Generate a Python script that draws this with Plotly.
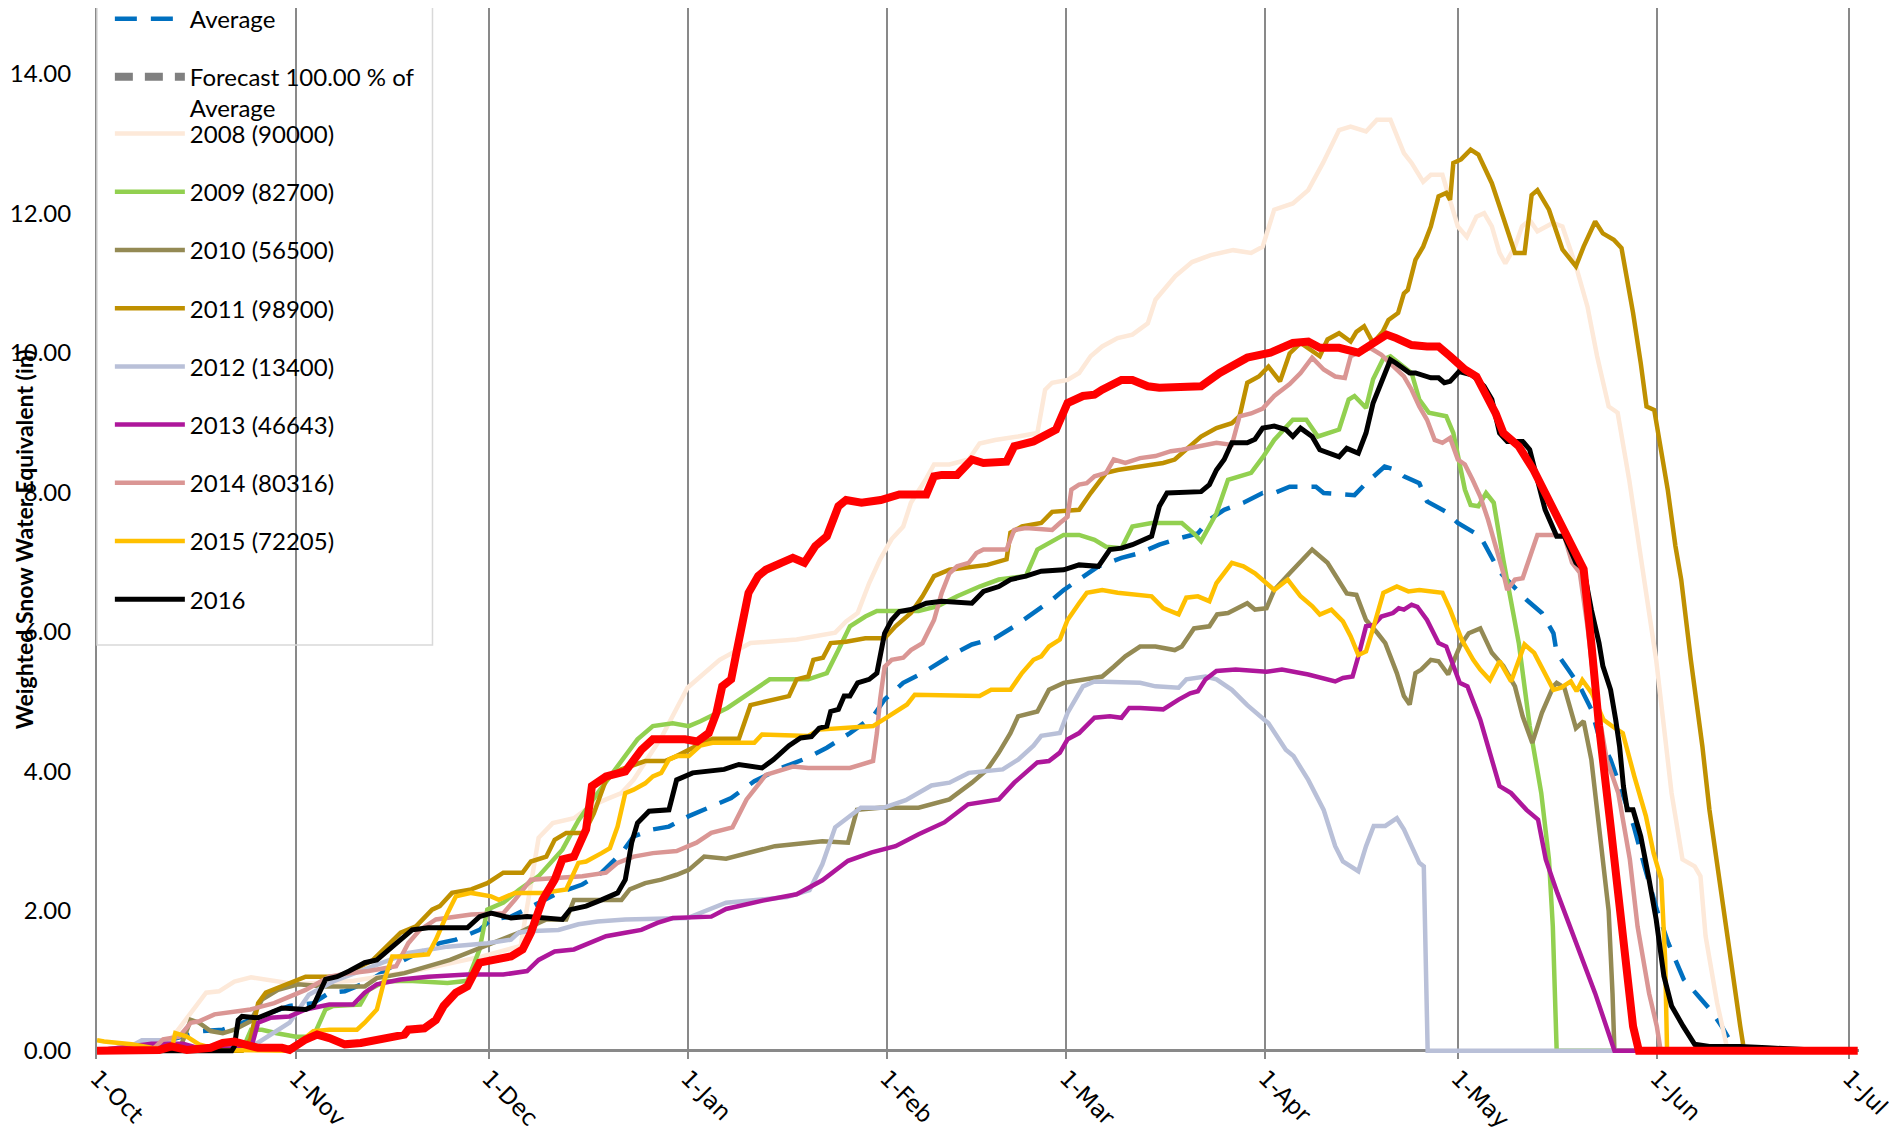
import plotly.graph_objects as go
import pandas as pd

# days counted from 1-Oct, values in inches
base = pd.Timestamp("2014-10-01")

month_days = [0, 31, 61, 92, 123, 151, 182, 212, 243, 273]
month_labels = ["1-Oct", "1-Nov", "1-Dec", "1-Jan", "1-Feb", "1-Mar", "1-Apr", "1-May", "1-Jun", "1-Jul"]

d_avg = [0, 5.4, 11.6, 16.5, 19.6, 22.6, 23.9, 30, 33.7, 36.2, 38.6, 42.3, 46, 48.5, 53.4, 55.9, 59.6, 61.4,
         64.5, 66.3, 67.6, 71.9, 75.6, 78.6, 81.7, 83.6, 86.6, 89.1, 92.2, 95.7, 98.8, 102.4, 106.6, 110.8,
         113.7, 117.3, 120.9, 122.7, 125.6, 128.6, 132.8, 136.3, 139.9, 142.9, 145.9, 148.8, 150.6, 153, 156,
         159.6, 162.5, 165.5, 168.5, 171.5, 173.3, 175.6, 178.6, 181.6, 183.4, 185.8, 189.9, 191.1, 195.9,
         197.7, 200.6, 202.4, 203.6, 206, 207.2, 210.2, 212, 215.5, 217.3, 218.5, 222.7, 225.1, 226.9, 227.4,
         229.2, 231, 232.8, 234, 235.8, 237.6, 239.4, 241.2, 243, 244.8, 247.2, 249.5, 251.3, 253.1, 254.3,
         254.9, 273]
v_avg = [0, 0.06, 0.16, 0.28, 0.3, 0.4, 0.44, 0.64, 0.68, 0.83, 0.85, 0.99, 1.21, 1.33, 1.54, 1.59, 1.73, 1.88,
         1.92, 2.0, 2.07, 2.26, 2.38, 2.55, 2.83, 3.07, 3.17, 3.21, 3.36, 3.5, 3.62, 3.86, 4.05, 4.2,
         4.34, 4.55, 4.79, 5.03, 5.27, 5.41, 5.65, 5.82, 5.91, 6.08, 6.27, 6.46, 6.6, 6.75, 6.94,
         7.06, 7.13, 7.25, 7.34, 7.41, 7.61, 7.75, 7.85, 7.99, 7.99, 8.08, 8.08, 7.99, 7.96,
         8.13, 8.37, 8.32, 8.23, 8.13, 7.87, 7.72, 7.56, 7.37, 7.08, 6.86, 6.46, 6.27, 5.98, 5.7,
         5.46, 5.22, 4.89, 4.5, 4.17, 3.69, 3.22, 2.6, 2.02, 1.54, 1.02, 0.78, 0.59, 0.35, 0.16,
         0, 0]

d_2008 = [0, 8, 11, 17, 19, 21.4, 24, 28, 31, 40, 50, 60, 66, 68.8, 71, 74.3, 76.8, 79.3, 81.7, 83.6, 88, 92,
          97, 101.8, 109, 115, 116.7, 118.5, 120.3, 122, 123.8, 125.6, 126.8, 129.2, 130.4, 132.8, 135.8,
          137.5, 139.9, 143.5, 146.5, 147.7, 148.8, 151.2, 153, 154.8, 156.6, 159, 161.3, 163.7, 164.9, 168,
          170.6, 173.5, 177, 179.8, 181.6, 183.4, 186.3, 188.7, 191, 193.5, 195.3, 197.7, 199.4, 201.5, 203.6,
          204.8, 206.6, 207.8, 209.6, 212, 213.4, 214.9, 216.1, 217.3, 218.5, 219.4, 220.9, 222, 223.2, 224.4,
          226.8, 228.3, 230.4, 232.2, 233.7, 235.5, 236.9, 238.7, 240.5, 242.9, 245.3, 247, 248.9, 249.8,
          250.6, 252.4, 253.9, 255, 273]
v_2008 = [0, 0.1, 0.1, 0.83, 0.85, 0.99, 1.05, 1.0, 0.95, 1.0, 1.15, 1.35, 1.5, 3.05, 3.26, 3.33, 3.5, 3.6, 3.69,
          3.88, 4.5, 5.2, 5.6, 5.84, 5.89, 5.99, 6.15, 6.27, 6.7, 7.04, 7.33, 7.51, 7.85, 8.2, 8.4, 8.4, 8.47,
          8.7, 8.75, 8.8, 8.85, 9.47, 9.57, 9.61, 9.71, 9.95, 10.09, 10.21, 10.26, 10.42, 10.76, 11.1,
          11.3, 11.4, 11.47, 11.43, 11.52, 12.05, 12.14, 12.33, 12.72, 13.19, 13.24, 13.17, 13.34, 13.34, 12.86,
          12.72, 12.45, 12.55, 12.55, 11.81, 11.66, 11.95, 12.0, 11.81, 11.43, 11.28, 11.52, 11.81, 11.9, 11.74,
          11.86, 11.81, 11.24, 10.66, 9.95, 9.23, 9.14, 8.18, 7.03, 5.6, 3.69, 2.74, 2.64, 2.5,
          1.64, 0.68, 0.06, 0, 0]

d_2009 = [0, 22.6, 24, 25.7, 28, 31, 33.7, 35.6, 36.8, 41, 42.3, 44.8, 48.5, 54.6, 57.7, 59.6, 60.8, 63.3, 65.7,
          68.8, 72.5, 75, 78, 81.1, 84.2, 86.6, 89.7, 92.2, 94, 98.2, 103, 104.8, 110.8, 113.7, 115.5, 117.3,
          119.7, 121.5, 128, 131, 134, 137.5, 140.5, 144.7, 146.5, 148.3, 150.6, 153, 155.4, 157.2, 159.6,
          161.3, 164.3, 169, 170.9, 172, 174.4, 176.2, 179.8, 181.6, 183.4, 186.3, 188.4, 190.2, 193.5, 195,
          195.9, 197.7, 198.8, 200.3, 201.5, 204.8, 206, 207.5, 210.2, 211.3, 213.1, 214, 215.2, 216.4, 217.6,
          219.1, 221.5, 223.2, 225, 226.2, 226.8, 227.4, 273]
v_2009 = [0, 0, 0.3, 0.3, 0.25, 0.2, 0.2, 0.59, 0.64, 0.66, 0.87, 0.99, 1.0, 0.97, 1.0, 1.45, 2.02, 2.12, 2.3,
          2.5, 2.88, 3.3, 3.69, 4.07, 4.46, 4.65, 4.69, 4.65, 4.72, 4.91, 5.22, 5.32, 5.32, 5.41, 5.74, 6.08,
          6.22, 6.3, 6.3, 6.37, 6.51, 6.65, 6.75, 6.8, 7.18, 7.27, 7.39, 7.39, 7.32, 7.22, 7.2,
          7.51, 7.56, 7.56, 7.41, 7.3, 7.7, 8.18, 8.28, 8.5, 8.75, 9.04, 9.04, 8.8, 8.9, 9.33,
          9.38, 9.21, 9.62, 9.9, 9.95, 9.71, 9.33, 9.14, 9.09, 8.85, 8.04, 7.82, 7.8, 7.99, 7.85,
          7.03, 5.84, 4.65, 3.69, 2.74, 1.78, 0, 0]

d_2010 = [0, 8, 13, 14.6, 15.9, 17.7, 19.6, 21.4, 23.9, 25.7, 28.2, 31.3, 35.6, 41.7, 43.6, 47.9, 55, 62, 66,
          68.8, 70, 73.1, 74.3, 81.7, 83, 85.4, 87.9, 90.3, 92.2, 94.6, 98, 105.6, 113, 117, 118.4, 122, 128,
          132.8, 136.3, 138.7, 140.5, 142.3, 143.5, 146.5, 148.3, 150.6, 153.6, 156.6, 158.4, 160.2, 162.5,
          164.9, 167.9, 169, 170.9, 173.3, 174.5, 176.2, 179.2, 180.4, 182.2, 183.4, 185.8, 187.8, 189.3,
          191.7, 194.7, 196.2, 197.7, 199.5, 200.7, 202.5, 203.6, 204.5, 205.4, 206.3, 207.8, 209, 210.5,
          212.3, 213.7, 215.5, 217.3, 219.1, 220.9, 222.1, 223.6, 225.1, 226.9, 227.4, 228.6, 230.4, 231.6,
          232.8, 234, 235.5, 236.1, 236.4, 273]
v_2010 = [0, 0.05, 0.05, 0.44, 0.4, 0.28, 0.25, 0.3, 0.42, 0.73, 0.87, 0.95, 0.92, 0.92, 1.04, 1.11, 1.3, 1.55, 1.7,
          1.83, 1.88, 1.88, 2.16, 2.16, 2.31, 2.4, 2.45, 2.52, 2.59, 2.78, 2.75, 2.93, 3.0, 2.98, 3.45, 3.48, 3.48,
          3.6, 3.84, 4.03, 4.27, 4.55, 4.79, 4.86, 5.17, 5.27, 5.32, 5.36, 5.5, 5.65, 5.79,
          5.79, 5.74, 5.79, 6.05, 6.08, 6.25, 6.27, 6.41, 6.32, 6.34, 6.6, 6.84, 7.03, 7.18,
          6.99, 6.55, 6.53, 6.17, 5.98, 5.84, 5.41, 5.08, 4.96, 5.41, 5.46, 5.6, 5.58, 5.39,
          5.79, 5.98, 6.05, 5.7, 5.51, 5.22, 4.79, 4.41, 4.84, 5.22, 5.27, 5.2, 4.62, 4.72,
          4.17, 3.2, 2.0, 0.82, 0, 0]

d_2011 = [0, 22.6, 23.9, 25.1, 26.3, 28.2, 30, 32.5, 38, 43, 47.3, 49.7, 52.2, 53.4, 55.3, 58.3, 60.8, 63.3,
          66.3, 67.6, 70, 71.3, 73.1, 75.9, 77.4, 79.3, 81.7, 85.4, 88.5, 90.3, 93.5, 95.9, 100, 100.9, 101.8,
          103.6, 106, 107.8, 109, 110.8, 111.6, 113.1, 114.3, 116.7, 119.7, 122.7, 124.4, 126.8, 128.6, 130.4,
          132.8, 136.3, 138.7, 141.7, 142.3, 144.1, 147.1, 148.8, 153, 154.8, 157.2, 159, 162.5, 166.1, 167.9,
          169.7, 172, 174.4, 176.8, 178, 179.2, 181, 182.5, 184.3, 185.8, 187.5, 190.5, 191.7, 193.5, 195.3,
          196.2, 197.4, 198.8, 200.3, 201.2, 202.7, 203.6, 204.2, 205.4, 206.6, 207.8, 209, 210.2, 210.8,
          211.3, 212.5, 214, 215.2, 217.3, 218.5, 220.9, 222.4, 223.5, 224.4, 226.2, 228.3, 230.4, 231.6,
          233.4, 234.6, 236.3, 237.5, 239.3, 240.5, 241.4, 242.6, 243.5, 244.7, 245.9, 246.8, 248.3, 250.1,
          251.2, 253, 255.1, 256, 256.6, 273]
v_2011 = [0, 0, 0.16, 0.68, 0.83, 0.9, 0.97, 1.06, 1.06, 1.3, 1.69, 1.78, 2.02, 2.07, 2.26, 2.31, 2.4, 2.55,
          2.55, 2.71, 2.78, 3.02, 3.12, 3.12, 3.4, 3.88, 4.03, 4.15, 4.15, 4.22, 4.37, 4.47, 4.47, 4.71, 4.95,
          4.99, 5.04, 5.08, 5.32, 5.36, 5.6, 5.63, 5.84, 5.86, 5.91, 5.91, 6.08, 6.27, 6.51, 6.8,
          6.89, 6.94, 6.96, 7.04, 7.42, 7.51, 7.56, 7.72, 7.75, 7.99, 8.28, 8.32, 8.37, 8.42, 8.47,
          8.61, 8.8, 8.92, 8.99, 9.09, 9.57, 9.66, 9.8, 9.59, 9.99, 10.14, 9.95, 10.19, 10.28, 10.16,
          10.3, 10.38, 10.14, 10.3, 10.47, 10.57, 10.85, 10.9, 11.33, 11.52, 11.81, 12.24, 12.29, 12.19,
          12.72, 12.77, 12.91, 12.84, 12.43, 12.1, 11.43, 11.43, 12.26, 12.33, 12.05, 11.48, 11.24, 11.52,
          11.88, 11.71, 11.62, 11.5, 10.57, 9.85, 9.23, 9.18, 8.66, 8.04, 7.23, 6.75, 5.6, 4.36,
          3.45, 2.26, 0.92, 0.35, 0, 0]

d_2012 = [0, 5, 7, 11, 13, 24, 30, 33, 37, 42.3, 48.5, 54.6, 60.8, 64.5, 65.7, 67, 71.9, 75, 78, 82.3, 92, 98,
          107.5, 111, 113, 115, 119, 122.5, 126, 130, 132.8, 135.8, 141.1, 143.5, 145.9, 147.1, 150, 151.2,
          152.4, 153.6, 155.4, 162.5, 164.9, 168.5, 169.7, 172.7, 174.4, 176.8, 179.2, 182.5, 185.2, 186.4,
          188.7, 191.1, 192.9, 194.1, 196.5, 197.7, 198.9, 200.7, 202.5, 203.6, 204.8, 206, 206.7, 207.3, 273]
v_2012 = [0, 0.05, 0.15, 0.15, 0.05, 0.05, 0.4, 0.8, 1.0, 1.18, 1.4, 1.49, 1.54, 1.59, 1.69, 1.71, 1.73, 1.81,
          1.85, 1.88, 1.9, 2.12, 2.2, 2.3, 2.67, 3.2, 3.48, 3.48, 3.59, 3.8, 3.84, 3.98, 4.03, 4.17, 4.37, 4.51,
          4.55, 4.84, 5.04, 5.22, 5.29, 5.27, 5.22, 5.2, 5.32, 5.36, 5.32, 5.17, 4.95, 4.69, 4.31, 4.22,
          3.88, 3.45, 2.93, 2.71, 2.57, 2.93, 3.22, 3.22, 3.33, 3.17, 2.93, 2.69, 2.64, 0, 0]

d_2013 = [0, 8.5, 13.4, 16, 24, 25.1, 27, 30, 32.5, 36.2, 39.9, 41.7, 43.6, 47.3, 51.6, 57.7, 63.3, 67, 68.8,
          71.3, 74.3, 76.8, 79.3, 82.3, 84.8, 87.3, 89.7, 95.7, 98, 103.7, 109, 113, 117, 120.7, 124.4, 128,
          132, 135.7, 140.5, 142.9, 144.7, 146.5, 148.3, 150, 151.2, 153, 155.4, 157.8, 159.6, 160.8, 162.5,
          166.1, 168.5, 170.3, 171.5, 172.7, 174.4, 177.4, 182.2, 184.6, 188.7, 190.5, 192.9, 194.1, 195.6,
          196.5, 197.7, 198.9, 200.1, 201.9, 202.8, 203.6, 204.8, 205.7, 207.2, 209, 210.2, 212.3, 213.5,
          215.5, 217.3, 218.5, 220.3, 222.7, 224.5, 225.7, 227.5, 230.4, 233.4, 236.4, 273]
v_2013 = [0, 0.1, 0.1, 0.03, 0.03, 0.4, 0.47, 0.49, 0.59, 0.66, 0.66, 0.83, 0.95, 1.02, 1.06, 1.09, 1.09, 1.14, 1.3,
          1.42, 1.45, 1.54, 1.64, 1.69, 1.73, 1.83, 1.9, 1.92, 2.03, 2.15, 2.24, 2.44, 2.72, 2.84, 2.93, 3.1,
          3.27, 3.53, 3.6, 3.84, 3.98, 4.13, 4.15, 4.27, 4.46, 4.55, 4.77, 4.79, 4.77, 4.91, 4.91,
          4.89, 5.03, 5.12, 5.15, 5.32, 5.44, 5.46, 5.43, 5.46, 5.39, 5.34, 5.29, 5.34, 5.36,
          5.65, 6.08, 6.1, 6.22, 6.27, 6.34, 6.32, 6.39, 6.36, 6.17, 5.84, 5.79, 5.27, 5.22,
          4.74, 4.17, 3.79, 3.69, 3.45, 3.31, 2.74, 2.26, 1.54, 0.82, 0, 0]

d_2014 = [0, 8.5, 10.3, 12.8, 14.6, 15.9, 18.3, 21.4, 23.9, 27.6, 30, 32.5, 36.2, 39.3, 42.3, 46.6, 48.5, 50.3,
          52.8, 58.3, 63.3, 65.1, 67.6, 71.3, 75.6, 79.3, 81.1, 83.6, 86.6, 90.3, 93.4, 95.7, 99, 101.2, 103,
          104.2, 108.4, 110.8, 117.3, 119, 120.9, 121.5, 122, 122.7, 123.8, 125.6, 126.8, 128.6, 130.4, 131.6,
          132.8, 134, 135.8, 137, 138.1, 141.7, 142.9, 144.7, 148.8, 150, 151.2, 151.8, 153, 154.2, 155.4,
          157.2, 158.4, 160.2, 162.5, 164.9, 167.3, 169, 171.5, 174.4, 176.8, 178, 179.8, 181.6, 183.4, 185.8,
          187.5, 189.3, 191.1, 192.9, 194.4, 195.3, 196.5, 198.3, 200.1, 201.9, 203.6, 204.8, 206, 207.2,
          208.4, 209.6, 210.8, 212, 213.1, 214.3, 215.5, 216.7, 217.9, 219.1, 219.7, 220.9, 222.1, 223.3,
          224.4, 226.8, 228.6, 229.8, 231, 232.2, 233.4, 235.2, 237, 238.8, 240, 241.8, 243, 243.6, 273]
v_2014 = [0, 0, 0.16, 0.2, 0.4, 0.42, 0.52, 0.56, 0.59, 0.68, 0.78, 0.87, 1.06, 1.11, 1.14, 1.21, 1.54, 1.73,
          1.88, 1.95, 1.97, 2.16, 2.45, 2.47, 2.5, 2.55, 2.69, 2.78, 2.83, 2.86, 2.98, 3.12, 3.2, 3.6, 3.8,
          3.95, 4.07, 4.05, 4.05, 4.1, 4.15, 4.55, 5.03, 5.5, 5.6, 5.63, 5.74, 5.84, 6.17, 6.56,
          6.84, 6.94, 6.99, 7.13, 7.18, 7.18, 7.46, 7.49, 7.46, 7.56, 7.65, 8.04, 8.11, 8.13, 8.23,
          8.28, 8.47, 8.42, 8.49, 8.52, 8.59, 8.61, 8.66, 8.71, 8.68, 9.09, 9.13, 9.2, 9.38, 9.55,
          9.71, 9.93, 9.76, 9.66, 9.64, 9.95, 10.0, 10.07, 9.97, 9.8, 9.66, 9.47, 9.23, 9.04,
          8.75, 8.71, 8.78, 8.47, 8.4, 8.18, 7.94, 7.61, 7.23, 6.84, 6.6, 6.75, 6.77, 7.08,
          7.39, 7.39, 7.37, 6.99, 6.85, 6.08, 5.13, 4.17, 3.69, 2.74, 1.78, 0.82, 0.35, 0, 0]

d_2015 = [0, 1.1, 5.4, 8.5, 11.6, 12.2, 14, 15.9, 19, 25, 30, 33.7, 36.2, 40.5, 41.7, 43.6, 44.8, 46, 47.9, 51.6,
          52.8, 54.6, 55.9, 58.3, 61.4, 62.6, 65.1, 69.4, 73.1, 75, 76.2, 78.6, 79.9, 81.1, 82.3, 83.6, 85.4,
          86.6, 87.9, 89.1, 90.3, 92.2, 94, 95.9, 102.4, 103.6, 110.8, 112.5, 117.3, 120.9, 123.3, 126.2,
          127.4, 137.5, 139.3, 142.3, 144.1, 145.9, 147.1, 148.3, 150, 151.2, 153, 154.2, 156.6, 159, 164.3,
          166.1, 168.5, 169.7, 171.5, 173.3, 174.4, 175.6, 176.8, 178.6, 180.4, 183.4, 185.5, 187.5, 189.3,
          190.5, 192.3, 194.1, 195.3, 196.5, 197.7, 198.9, 200.4, 202.5, 204.3, 206, 209.6, 210.8, 212.6,
          214.4, 215.5, 217, 218.5, 220.3, 222.4, 223.9, 225.7, 226.9, 228.1, 229.6, 230.5, 231.4, 232.9,
          234.7, 236.5, 237.7, 239.5, 241.3, 242.5, 243.7, 244.3, 244.6, 273]
v_2015 = [0.15, 0.13, 0.09, 0.04, 0.01, 0.25, 0.2, 0.09, 0.01, 0, 0, 0.28, 0.3, 0.3, 0.4, 0.59, 1.02, 1.35, 1.35,
          1.38, 1.59, 1.97, 2.21, 2.26, 2.21, 2.16, 2.26, 2.26, 2.31, 2.69, 2.71, 2.83, 2.9, 3.21, 3.69, 3.74,
          3.83, 3.93, 3.98, 4.17, 4.22, 4.22, 4.37, 4.41, 4.41, 4.53, 4.51, 4.6, 4.62, 4.65, 4.79, 4.96,
          5.1, 5.08, 5.17, 5.17, 5.41, 5.6, 5.65, 5.79, 5.89, 6.17, 6.41, 6.56, 6.6, 6.56, 6.51,
          6.34, 6.25, 6.49, 6.51, 6.44, 6.7, 6.84, 6.99, 6.94, 6.84, 6.6, 6.75, 6.51, 6.37,
          6.25, 6.32, 6.15, 5.94, 5.67, 5.72, 6.08, 6.56, 6.65, 6.58, 6.6, 6.56, 6.32, 5.89,
          5.6, 5.46, 5.31, 5.58, 5.29, 5.82, 5.7, 5.36, 5.17, 5.2, 5.29, 5.15, 5.31, 5.12,
          4.74, 4.62, 4.55, 3.93, 3.36, 2.83, 2.45, 1.3, 0, 0]

d_2016 = [0, 21, 21.4, 22, 22.6, 25.1, 27, 28.8, 32.5, 33.7, 35.6, 37.4, 39.3, 41.7, 43.6, 45.4, 47.3, 49.1, 51.6,
          57.7, 59.6, 61.4, 64.5, 67, 69.4, 72.5, 73.7, 76.2, 78.6, 81.1, 82.3, 83.3, 84.2, 86, 89.1, 90.3, 92.8,
          97.7, 100, 103.6, 105.4, 107.8, 109.6, 111.3, 112.5, 113.7, 114.3, 115.5, 116.4, 117.3, 118.5, 120.3,
          121.5, 122.7, 123.8, 125, 126.8, 129.2, 131.6, 136.3, 138.1, 140.5, 142.3, 144.7, 147.1, 150.6, 153,
          156, 157.8, 159.6, 161.3, 163.1, 164.3, 165.5, 166.7, 172, 173.3, 174.4, 175.6, 176.8, 179.2, 180.4,
          181.6, 183.4, 185.2, 186.3, 187.5, 189.3, 190.5, 193.5, 194.7, 196.5, 197.7, 198.8, 200, 201.5, 202.4,
          204.5, 205.4, 207.8, 209, 209.9, 210.8, 212.2, 214.3, 216.1, 217.3, 218.5, 219.7, 222.1, 223.2, 224.4,
          225.6, 227.4, 228.6, 230.4, 231.6, 232.8, 234, 234.6, 235.8, 236.6, 237.2, 237.8, 238.4, 239.3, 240.5,
          241.7, 242.9, 244.1, 245.3, 247.1, 248.9, 251.2, 256, 260.2, 266.1, 270]
v_2016 = [0, 0, 0.06, 0.44, 0.49, 0.47, 0.54, 0.61, 0.59, 0.64, 1.02, 1.06, 1.14, 1.26, 1.3, 1.45, 1.59, 1.73, 1.76,
          1.76, 1.92, 1.97, 1.9, 1.92, 1.9, 1.88, 2.02, 2.07, 2.16, 2.26, 2.45, 2.98, 3.26, 3.43, 3.45, 3.88, 3.98,
          4.03, 4.1, 4.05, 4.17, 4.37, 4.48, 4.5, 4.62, 4.65, 4.86, 4.89, 5.08, 5.08, 5.27, 5.32,
          5.41, 5.98, 6.17, 6.29, 6.32, 6.41, 6.44, 6.41, 6.58, 6.65, 6.75, 6.8, 6.87, 6.89, 6.96,
          6.94, 7.18, 7.2, 7.25, 7.32, 7.37, 7.8, 7.99, 8.01, 8.11, 8.32, 8.47, 8.71, 8.71, 8.76,
          8.92, 8.95, 8.9, 8.8, 8.92, 8.8, 8.61, 8.51, 8.63, 8.56, 8.85, 9.28, 9.57, 9.9, 9.85,
          9.71, 9.71, 9.64, 9.64, 9.57, 9.59, 9.73, 9.68, 9.52, 9.33, 8.85, 8.73, 8.73, 8.61, 8.18,
          7.75, 7.37, 7.37, 6.99, 6.9, 6.32, 5.84, 5.51, 5.17, 4.74, 4.36, 3.79, 3.45, 3.45, 3.07,
          2.5, 1.88, 1.07, 0.64, 0.35, 0.09, 0.06, 0.06, 0.04, 0.01, 0]

# thick red series (not listed in the legend)
d_red = [0, 9.7, 11.6, 14, 17.7, 19.6, 21.4, 23.3, 25.1, 28.8, 30, 32.5, 34.3, 36.2, 38.6, 41.1, 44.2, 47.9, 48.5,
         51, 52.8, 54, 55.9, 57.7, 59.6, 61.4, 64.5, 66.3, 67.6, 69.4, 71.3, 72.5, 74.3, 76.2, 77.1, 79.3, 82.3,
         84.8, 86.6, 91.6, 93.5, 95.3, 96.5, 97.4, 98.8, 99.7, 100.6, 101.5, 103, 104.2, 106.6, 108.4, 110.2,
         111.9, 113.7, 115.5, 116.7, 119.1, 122.1, 125, 129.2, 130.4, 131.6, 134, 136.3, 138.1, 141.7, 142.9,
         145.9, 149.4, 151.2, 153.6, 155.4, 156.6, 159.6, 161.3, 163.7, 165.5, 172, 174.9, 179.2, 182.8, 186.3,
         188.7, 190.5, 193.5, 196.5, 198.8, 200.9, 202.4, 204.8, 207.2, 209, 210.8, 213.1, 214.9, 216.1, 217.9,
         219.1, 221.5, 223.8, 226.2, 228.6, 230.4, 231.6, 232.8, 234, 235.8, 237.5, 239.3, 240.2, 274.3]
v_red = [0, 0.01, 0.06, 0.01, 0.04, 0.11, 0.13, 0.09, 0.04, 0.04, 0.01, 0.16, 0.23, 0.18, 0.09, 0.11, 0.16, 0.23, 0.3,
         0.32, 0.44, 0.64, 0.83, 0.92, 1.26, 1.3, 1.35, 1.45, 1.69, 2.16, 2.45, 2.74, 2.78, 3.17, 3.79, 3.93, 4.0,
         4.31, 4.46, 4.46, 4.43, 4.55, 4.84, 5.22, 5.32, 5.74, 6.22, 6.56, 6.8, 6.89, 6.99, 7.06, 6.99,
         7.23, 7.37, 7.8, 7.89, 7.85, 7.89, 7.97, 7.97, 8.23, 8.25, 8.25, 8.47, 8.42, 8.44, 8.66,
         8.73, 8.9, 9.28, 9.38, 9.4, 9.47, 9.61, 9.61, 9.52, 9.5, 9.52, 9.71, 9.93, 10.0, 10.14,
         10.16, 10.07, 10.07, 10.0, 10.14, 10.26, 10.21, 10.11, 10.09, 10.09, 9.95, 9.76, 9.66, 9.47, 9.13,
         8.85, 8.66, 8.32, 7.89, 7.47, 7.13, 6.9, 5.84, 4.65, 3.22, 1.78, 0.35, 0, 0]

names = ["2008 (90000)", "2009 (82700)", "2010 (56500)", "2011 (98900)", "2012 (13400)",
         "2013 (46643)", "2014 (80316)", "2015 (72205)", "2016"]
colors = ["#FDE9D9", "#92D050", "#948A54", "#BF9000", "#B9C0D8", "#AE179B", "#DA9694", "#FFC000", "#000000"]
year_days = [d_2008, d_2009, d_2010, d_2011, d_2012, d_2013, d_2014, d_2015, d_2016]
year_vals = [v_2008, v_2009, v_2010, v_2011, v_2012, v_2013, v_2014, v_2015, v_2016]


def to_dates(days):
    return base + pd.to_timedelta(days, unit="D")


fig = go.Figure()

fig.add_trace(go.Scatter(x=to_dates(d_avg), y=v_avg, mode="lines", name="Average", legendgroup="avg",
                         line=dict(color="#0070C0", width=4.5, dash="22px,14px")))
fig.add_trace(go.Scatter(x=[None], y=[None], mode="lines", name="Forecast 100.00 % of<br>Average",
                         legendgroup="fc", line=dict(color="#808080", width=8, dash="18px,12px")))

for nm, col, dd, vv in zip(names, colors, year_days, year_vals):
    w = 5 if nm == "2016" else 4.5
    fig.add_trace(go.Scatter(x=to_dates(dd), y=vv, mode="lines", name=nm, legendgroup=nm, legend="legend2",
                             line=dict(color=col, width=w)))

fig.add_trace(go.Scatter(x=to_dates(d_red), y=v_red, mode="lines", showlegend=False,
                         line=dict(color="#FF0000", width=8)))

legend_style = dict(xanchor="left", yanchor="top", bgcolor="rgba(0,0,0,0)", borderwidth=0,
                    traceorder="grouped", tracegroupgap=24, itemwidth=70, valign="top",
                    font=dict(family="Lato", size=24, color="black"))

fig.update_layout(
    width=1889, height=1131,
    # legends must not push the plot area around
    margin=dict(l=89, r=38, t=0, b=80, autoexpand=False),
    paper_bgcolor="white", plot_bgcolor="white",
    font=dict(family="Lato", size=24, color="black"),
    showlegend=True,
    legend=dict(x=0.0073, y=1.0109, **legend_style),
    legend2=dict(x=0.0073, y=0.9015, **legend_style),
    shapes=[dict(type="rect", xref="paper", yref="paper", x0=0, x1=0.1904, y0=0.394, y1=1.002,
                 line=dict(color="#D9D9D9", width=1.5), fillcolor="rgba(0,0,0,0)", layer="above")],
    annotations=[dict(text="<b>Weighted Snow Water Equivalent (in)</b>", textangle=-90,
                      xref="paper", yref="paper", x=-0.0417, y=0.494, xanchor="center", yanchor="middle",
                      showarrow=False, font=dict(family="Lato", size=23, color="black"))],
)

fig.update_xaxes(
    type="date",
    range=[base, base + pd.Timedelta(days=274.5)],
    tickmode="array", tickvals=to_dates(month_days), ticktext=month_labels,
    tickangle=45, tickfont=dict(family="DejaVu Sans", size=23, color="black"),
    showgrid=True, gridcolor="#898989", gridwidth=2,
    showline=False, zeroline=False, ticks="", ticklabelstandoff=0,
)
fig.update_yaxes(
    range=[-0.12, 14.94], tick0=0, dtick=2, tickformat=".2f",
    showgrid=False, zeroline=True, zerolinecolor="#898989", zerolinewidth=2.5,
    showline=True, linecolor="#898989", linewidth=2, layer="below traces",
    ticks="", ticklabelstandoff=19, tickfont=dict(family="Lato", size=24, color="black"),
)

fig.write_html("out.html")
